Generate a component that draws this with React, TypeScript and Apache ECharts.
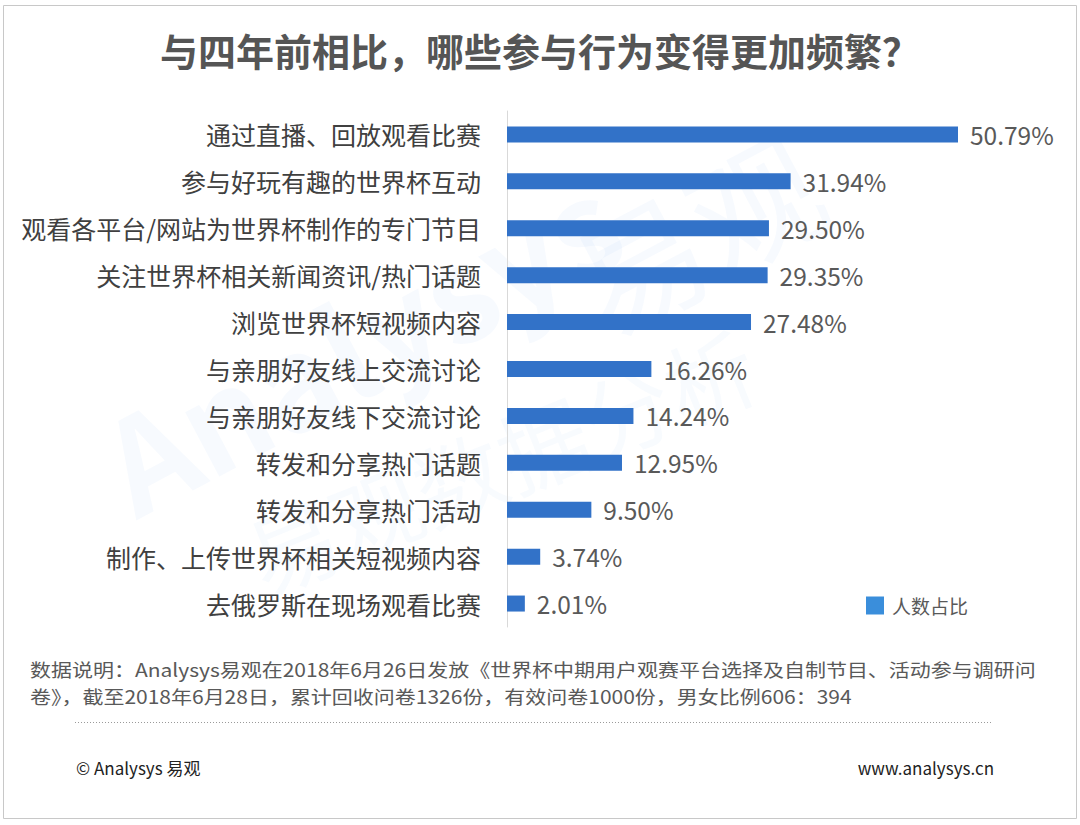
import React, { useEffect, useRef } from "react";
import * as echarts from "echarts";

const categories = [
  "通过直播、回放观看比赛",
  "参与好玩有趣的世界杯互动",
  "观看各平台/网站为世界杯制作的专门节目",
  "关注世界杯相关新闻资讯/热门话题",
  "浏览世界杯短视频内容",
  "与亲朋好友线上交流讨论",
  "与亲朋好友线下交流讨论",
  "转发和分享热门话题",
  "转发和分享热门活动",
  "制作、上传世界杯相关短视频内容",
  "去俄罗斯在现场观看比赛",
];
const values = [50.79, 31.94, 29.5, 29.35, 27.48, 16.26, 14.24, 12.95, 9.5, 3.74, 2.01];
const seriesName = "人数占比";
const titleText = "与四年前相比，哪些参与行为变得更加频繁？";
const noteLine1 =
  "数据说明：Analysys易观在2018年6月26日发放《世界杯中期用户观赛平台选择及自制节目、活动参与调研问";
const noteLine2 =
  "卷》，截至2018年6月28日，累计回收问卷1326份，有效问卷1000份，男女比例606：394";
const copyright = "© Analysys 易观";
const website = "www.analysys.cn";

const FONT = "'Noto Sans CJK SC', 'Noto Sans', sans-serif";

export default function App() {
  const ref = useRef<HTMLDivElement>(null);
  useEffect(() => {
    if (!ref.current) return;
    const chart = echarts.init(ref.current, null, { renderer: "svg" });
    chart.setOption({
      animation: false,
      backgroundColor: "#ffffff",
      title: {
        text: titleText,
        left: "center",
        top: 30,
        padding: 0,
        textStyle: {
          fontFamily: FONT,
          fontSize: 38,
          fontWeight: "bold",
          color: "#555555",
        },
      },
      legend: {
        left: 866,
        top: 596,
        padding: 0,
        icon: "rect",
        itemWidth: 18,
        itemHeight: 18,
        textStyle: { fontFamily: FONT, fontSize: 19, color: "#595959", padding: [0, 0, 0, 3] },
        data: [{ name: seriesName, itemStyle: { color: "#3A8EDB" } }],
      },
      grid: { left: 507, top: 111, width: 451, height: 516, containLabel: false },
      xAxis: {
        type: "value",
        min: 0,
        max: 50.79,
        show: false,
      },
      yAxis: {
        type: "category",
        inverse: true,
        data: categories,
        axisLine: { show: true, lineStyle: { color: "#d9d9d9", width: 1 } },
        axisTick: { show: false },
        axisLabel: {
          fontFamily: FONT,
          fontSize: 25,
          color: "#404040",
          margin: 26,
        },
      },
      series: [
        {
          name: seriesName,
          type: "bar",
          data: values,
          barWidth: 16,
          itemStyle: { color: "#3272C8" },
          label: {
            show: true,
            position: "right",
            distance: 12,
            fontFamily: FONT,
            fontSize: 24.5,
            color: "#595959",
            formatter: (p: any) => p.value.toFixed(2) + "%",
          },
        },
      ],
      graphic: [
        {
          type: "rect",
          z: -10,
          shape: { x: 3.5, y: 5.5, width: 1073, height: 813 },
          style: { fill: "none", stroke: "#c8c8c8", lineWidth: 1 },
        },
        {
          type: "text",
          z: -5,
          x: 110,
          y: 470,
          rotation: (28 * Math.PI) / 180,
          style: {
            text: "Analysys",
            fontFamily: FONT,
            fontSize: 130,
            fontWeight: "bold",
            fill: "rgba(60,140,220,0.04)",
            textVerticalAlign: "middle",
          },
        },
        {
          type: "text",
          z: -5,
          x: 580,
          y: 290,
          rotation: (28 * Math.PI) / 180,
          style: {
            text: "易观",
            fontFamily: FONT,
            fontSize: 130,
            fill: "rgba(60,140,220,0.04)",
            textVerticalAlign: "middle",
          },
        },
        {
          type: "text",
          z: -5,
          x: 250,
          y: 560,
          rotation: (22 * Math.PI) / 180,
          style: {
            text: "易观数据分析",
            fontFamily: FONT,
            fontSize: 90,
            fill: "rgba(60,140,220,0.035)",
            textVerticalAlign: "middle",
          },
        },
        {
          type: "text",
          x: 30,
          y: 669.5,
          scaleY: 0.88,
          style: {
            text: noteLine1,
            fontFamily: FONT,
            fontSize: 21,
            fill: "#595959",
            textVerticalAlign: "middle",
          },
        },
        {
          type: "text",
          x: 30,
          y: 696.5,
          scaleY: 0.88,
          style: {
            text: noteLine2,
            fontFamily: FONT,
            fontSize: 21,
            fill: "#595959",
            textVerticalAlign: "middle",
          },
        },
        {
          type: "line",
          shape: { x1: 75, y1: 722.5, x2: 993, y2: 722.5 },
          style: { stroke: "#9a9a9a", lineWidth: 1, lineDash: [1, 2] },
        },
        {
          type: "text",
          x: 76,
          y: 767,
          style: {
            text: copyright,
            fontFamily: FONT,
            fontSize: 17,
            fill: "#222222",
            textVerticalAlign: "middle",
          },
        },
        {
          type: "text",
          x: 994,
          y: 767,
          style: {
            text: website,
            fontFamily: FONT,
            fontSize: 17,
            fill: "#222222",
            textAlign: "right",
            textVerticalAlign: "middle",
          },
        },
      ],
    });
    return () => chart.dispose();
  }, []);
  return (
    <div
      ref={ref}
      style={{ position: "fixed", left: 0, top: 0, width: 1080, height: 825 }}
    />
  );
}
